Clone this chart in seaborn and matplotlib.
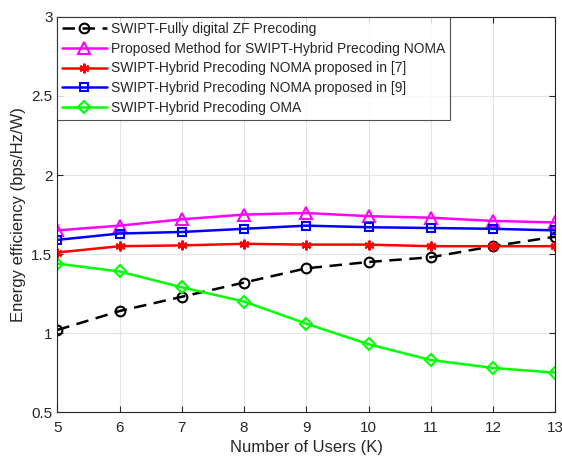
import numpy as np
import pandas as pd
import matplotlib
matplotlib.use("Agg")
import matplotlib.pyplot as plt
import seaborn as sns

# ── data ───────────────────────────────────────────────────────
users = [5, 6, 7, 8, 9, 10, 11, 12, 13]
ee_zf = [1.02, 1.14, 1.23, 1.32, 1.41, 1.45, 1.48, 1.55, 1.61]
ee_proposed = [1.65, 1.68, 1.72, 1.75, 1.76, 1.74, 1.73, 1.71, 1.70]
ee_noma7 = [1.51, 1.55, 1.555, 1.565, 1.56, 1.56, 1.55, 1.55, 1.55]
ee_noma9 = [1.59, 1.63, 1.64, 1.66, 1.68, 1.67, 1.665, 1.66, 1.65]
ee_oma = [1.44, 1.39, 1.29, 1.20, 1.06, 0.93, 0.83, 0.78, 0.75]

labels = [
    "SWIPT-Fully digital ZF Precoding",
    "Proposed Method for SWIPT-Hybrid Precoding NOMA",
    "SWIPT-Hybrid Precoding NOMA proposed in [7]",
    "SWIPT-Hybrid Precoding NOMA proposed in [9]",
    "SWIPT-Hybrid Precoding OMA",
]

# ── styling ────────────────────────────────────────────────────
sns.set_style("ticks")
plt.rcParams["font.family"] = ["Liberation Sans", "DejaVu Sans"]

fig, ax = plt.subplots(figsize=(5.62, 4.58), dpi=100)
fig.subplots_adjust(left=0.102, right=0.988, top=0.963, bottom=0.10)

series = [
    (ee_zf, "black", "o", (5, 3), 7),
    (ee_proposed, "#ff00ff", "^", "", 8),
    (ee_noma7, "red", (6, 2, 0), "", 7),
    (ee_noma9, "blue", "s", "", 6),
    (ee_oma, "#00ff00", "D", "", 6),
]

for (vals, color, marker, dash, ms), lab in zip(series, labels):
    sns.lineplot(x=users, y=vals, ax=ax, color=color, marker=marker,
                 markersize=ms, markerfacecolor="none", markeredgecolor=color,
                 markeredgewidth=1.5, linewidth=1.8, label=lab,
                 dashes=False if dash == "" else True)
    if dash != "":
        ax.lines[-1].set_dashes(dash)

ax.set_xlim(5, 13)
ax.set_ylim(0.5, 3)
ax.set_xticks(users)
ax.set_yticks([0.5, 1, 1.5, 2, 2.5, 3])
ax.set_yticklabels(["0.5", "1", "1.5", "2", "2.5", "3"])
ax.grid(True, color="#e3e3e3", linewidth=0.8)
ax.tick_params(direction="in", top=True, right=True, labelsize=11, length=4)
ax.tick_params(axis="x", pad=6)
for s in ax.spines.values():
    s.set_linewidth(0.8)
    s.set_color("#262626")

ax.set_xlabel("Number of Users (K)", fontsize=12)
ax.set_ylabel("Energy efficiency (bps/Hz/W)", fontsize=12)

leg = ax.legend(loc="upper left", fontsize=10, frameon=True, fancybox=False,
                edgecolor="#262626", borderaxespad=0.0, handlelength=3.2,
                labelspacing=0.42, borderpad=0.35, handletextpad=0.3)
leg.get_frame().set_linewidth(0.8)

plt.savefig("out.png", dpi=100)
